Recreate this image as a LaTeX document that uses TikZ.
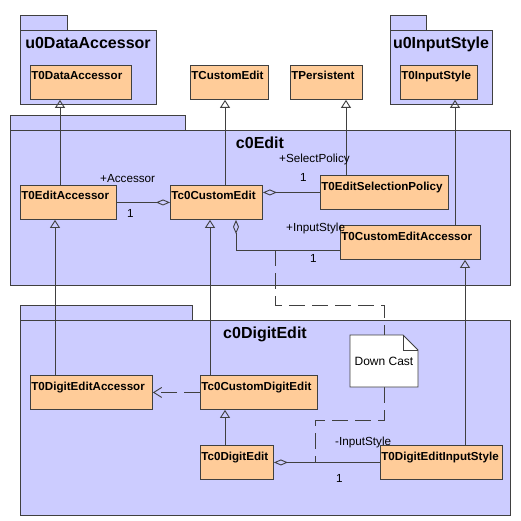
\documentclass[tikz,border=0pt]{standalone}
\usepackage{fontspec}
\setmainfont{Liberation Sans}
\usetikzlibrary{arrows.meta}
\definecolor{pkgfill}{RGB}{204,204,255}
\definecolor{clsfill}{RGB}{255,204,153}
\definecolor{ink}{RGB}{64,64,64}

\tikzset{
  pkg/.style={draw=ink, fill=pkgfill, line width=0.9pt},
  pkgtitle/.style={font=\fontsize{16}{19}\selectfont\bfseries, anchor=base, inner sep=0},
  clsbox/.style={draw=ink, fill=clsfill, line width=0.9pt, anchor=north west, inner sep=0},
  clsname/.style={font=\fontsize{11.6}{13}\selectfont\bfseries, anchor=base west, inner sep=0},
  role/.style={font=\fontsize{11.7}{13}\selectfont, anchor=base west, inner sep=0},
  conn/.style={draw=ink, line width=0.9pt},
  inherit/.style={conn, -{Triangle[open,length=8pt,width=10pt]}},
  aggr/.style={conn, {Diamond[open,length=14pt,width=6pt]}-},
  depend/.style={conn, dash pattern=on 16pt off 7pt, -{Straight Barb[length=8pt,width=10pt]}},
  anchorline/.style={conn, dash pattern=on 16pt off 7pt},
  notetext/.style={minimum width=68pt, minimum height=52pt, inner sep=0,
    font=\fontsize{12}{14}\selectfont},
}

% class box: name, x, y (top left), width, height, title
\newcommand{\umlclass}[6]{%
  \node[clsbox, minimum width=#4pt, minimum height=#5pt] (#1) at (#2,#3) {};
  \node[clsname] (#1-name) at ([shift={(1.2pt,-15pt)}]#1.north west) {#6};}

% package: name, x, y (tab top), tab right, tab bottom, body right, body bottom, title
\newcommand{\umlpackage}[8]{%
  \draw[pkg] (#2,#3) rectangle (#4,#5);
  \draw[pkg] (#2,#5) rectangle (#6,#7);
  \node[pkgtitle] (#1) at ({(#2+#6)/2},{#5+18.5}) {#8};}

\begin{document}
\begin{tikzpicture}[x=1pt, y=-1pt]
  \useasboundingbox[fill=white] (0,0) rectangle (521,521);

  % packages
  \umlpackage{pda}{20}{15}{67}{30}{156}{104}{u0DataAccessor}
  \umlpackage{pis}{390}{15}{426}{30}{492}{104}{u0InputStyle}
  \umlpackage{pedit}{10}{115}{185}{130}{510}{285}{c0Edit}
  \umlpackage{pdigit}{20}{305}{192}{320}{510}{515}{c0DigitEdit}

  % classes
  \umlclass{t0da}{30}{65}{101}{34}{T0DataAccessor}
  \umlclass{tcust}{190}{65}{78}{34}{TCustomEdit}
  \umlclass{tpers}{290}{65}{72}{34}{TPersistent}
  \umlclass{t0is}{400}{65}{77}{34}{T0InputStyle}
  \umlclass{teacc}{20}{185}{96}{34}{T0EditAccessor}
  \umlclass{tc0ce}{170}{185}{92}{34}{Tc0CustomEdit}
  \umlclass{tesp}{320}{175}{128}{34}{T0EditSelectionPolicy}
  \umlclass{tcea}{340}{225}{140}{34}{T0CustomEditAccessor}
  \umlclass{tdea}{30}{375}{122}{34}{T0DigitEditAccessor}
  \umlclass{tccde}{200}{375}{117}{34}{Tc0CustomDigitEdit}
  \umlclass{tcde}{200}{445}{73}{34}{Tc0DigitEdit}
  \umlclass{tdeis}{380}{445}{122}{34}{T0DigitEditInputStyle}

  % generalisations
  \draw[inherit] (teacc.north -| 60,0) -- (t0da.south -| 60,0);
  \draw[inherit] (tc0ce.north -| 225,0) -- (tcust.south -| 225,0);
  \draw[inherit] (tesp.north -| 346,0) -- (tpers.south -| 346,0);
  \draw[inherit] (tcea.north -| 455,0) -- (t0is.south -| 455,0);
  \draw[inherit] (tdea.north -| 55,0) -- (teacc.south -| 55,0);
  \draw[inherit] (tccde.north -| 210,0) -- (tc0ce.south -| 210,0);
  \draw[inherit] (tcde.north -| 225,0) -- (tccde.south -| 225,0);
  \draw[inherit] (tdeis.north -| 465,0) -- (tcea.south -| 465,0);

  % aggregations
  \draw[aggr] (tc0ce.west) -- (teacc.east);
  \draw[aggr] (tc0ce.east |- tesp.west) -- (tesp.west);
  \coordinate (isjoin) at (275,250);
  \draw[aggr] (tc0ce.south -| 236,0) -- (236,250) -- (tcea.west |- 0,250);
  \draw[aggr] (tcde.east) -- (tdeis.west);
  \coordinate (digjoin) at (315,0 |- tcde.east);

  % dependency
  \draw[depend] (tccde.west) -- (tdea.east);

  % note with its anchor lines
  \node[notetext] (note) at (384,361) {};
  \draw[anchorline] (isjoin) -- (275,305) -- (note.north |- 0,305) -- (note.north);
  \draw[anchorline] (note.south) -- (note.south |- 0,420) -- (315,420) -- (digjoin);
  \draw[conn, fill=white] (350,335) -- (403,335) -- (418,350) -- (418,387) -- (350,387) -- cycle;
  \draw[conn] (403,335) -- (403,350) -- (418,350);
  \node[notetext] (notelabel) at (note.center) {Down Cast};

  % role names and multiplicities
  \node[role] (r1) at (100,183) {+Accessor};
  \node[role] (m1) at (127,217) {1};
  \node[role] (r2) at (279,163) {+SelectPolicy};
  \node[role] (m2) at (300,182) {1};
  \node[role] (r3) at (286,231) {+InputStyle};
  \node[role] (m3) at (310,262) {1};
  \node[role] (r4) at (335,445) {-InputStyle};
  \node[role] (m4) at (336,482) {1};
\end{tikzpicture}
\end{document}
